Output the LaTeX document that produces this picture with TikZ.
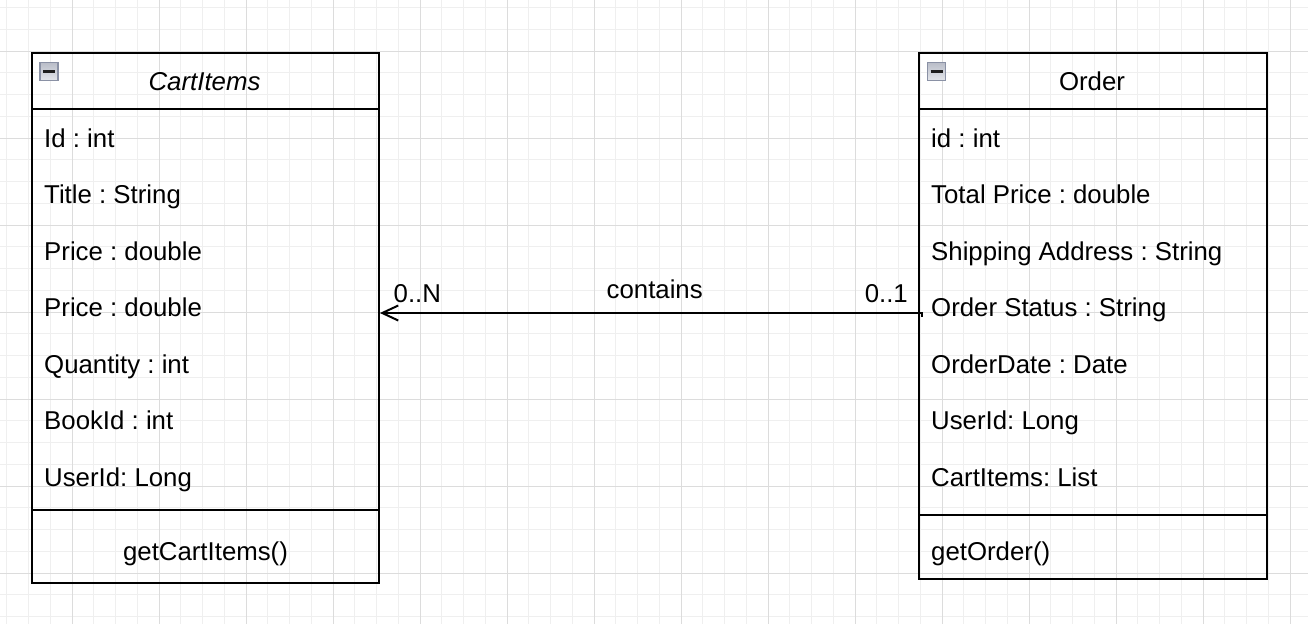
\documentclass[tikz,border=0pt]{standalone}
\usepackage{fontspec}
\setmainfont{Liberation Sans}
\usetikzlibrary{arrows.meta}
\definecolor{minorgrid}{HTML}{EFEFEF}
\definecolor{majorgrid}{HTML}{DCDCDC}
\definecolor{iconborder}{HTML}{8A91A5}
\definecolor{icontop}{HTML}{B9BDC8}
\definecolor{iconbot}{HTML}{E4E6EB}
\definecolor{iconbar}{HTML}{1E1E1E}
\newcommand{\umlfont}{\fontsize{25.8}{31}\selectfont}
\frenchspacing
\begin{document}
\begin{tikzpicture}[x=1pt,y=-1pt,
  compart/.style={draw=black,line width=2.4pt,inner sep=0pt,anchor=north west},
  attr/.style={anchor=base west,inner sep=0pt,font=\umlfont},
  ctext/.style={anchor=base,inner sep=0pt,font=\umlfont},
  lbl/.style={inner sep=0pt,font=\umlfont},
  icon/.style={draw=iconborder,line width=1.6pt,minimum size=18pt,inner sep=0pt,top color=icontop,bottom color=iconbot},
  iconminus/.style={draw=iconbar,line width=2.6pt},
  assoc/.style={draw=black,line width=2pt,-{Straight Barb[length=16pt,width=15pt,line width=2pt]}}]
\useasboundingbox (0,0) rectangle (1308,624);
\fill[white] (0,0) rectangle (1308,624);
% grid
\begin{scope}
\clip (0,0) rectangle (1308,624);
\foreach \k in {-3,...,57} {
  \pgfmathsetmacro{\xx}{72+21.75*\k}
  \draw[minorgrid,line width=1pt] (\xx,0) -- (\xx,624);
}
\foreach \k in {-2,...,26} {
  \pgfmathsetmacro{\yy}{51+21.75*\k}
  \draw[minorgrid,line width=1pt] (0,\yy) -- (1308,\yy);
}
\foreach \k in {0,...,14} {
  \pgfmathsetmacro{\xx}{72+87*\k}
  \draw[majorgrid,line width=1pt] (\xx,0) -- (\xx,624);
}
\foreach \k in {0,...,6} {
  \pgfmathsetmacro{\yy}{51+87*\k}
  \draw[majorgrid,line width=1pt] (0,\yy) -- (1308,\yy);
}
\end{scope}
% CartItems class
\node[compart,minimum width=347pt,minimum height=56pt] (cartH) at (30.5,52) {};
\node[compart,minimum width=347pt,minimum height=401pt] (cartA) at (30.5,108) {};
\node[compart,minimum width=347pt,minimum height=73pt] (cartM) at (30.5,509) {};
\node[icon] (cartIcon) at (49,71.5) {};
\draw[iconminus] ([xshift=-6pt]cartIcon.center) -- ([xshift=6pt]cartIcon.center);
\node[ctext] (cartT) at (204.5,90.3) {\itshape CartItems};
\node[attr] (c1) at (44,147.3) {Id : int};
\node[attr] (c2) at (44,203.8) {Title : String};
\node[attr] (c3) at (44,260.3) {Price : double};
\node[attr] (c4) at (44,316.8) {Price : double};
\node[attr] (c5) at (44,373.3) {Quantity : int};
\node[attr] (c6) at (44,429.8) {BookId : int};
\node[attr] (c7) at (44,486.3) {UserId: Long};
\node[ctext] (cm1) at (205.5,560) {getCartItems()};
% Order class
\node[compart,minimum width=348pt,minimum height=56pt] (ordH) at (917.5,52) {};
\node[compart,minimum width=348pt,minimum height=405.5pt] (ordA) at (917.5,108) {};
\node[compart,minimum width=348pt,minimum height=64.5pt] (ordM) at (917.5,513.5) {};
\node[icon] (ordIcon) at (936.5,71.5) {};
\draw[iconminus] ([xshift=-6pt]ordIcon.center) -- ([xshift=6pt]ordIcon.center);
\node[ctext] (ordT) at (1092,90.3) {Order};
\node[attr] (o1) at (931,147.3) {id : int};
\node[attr] (o2) at (931,203.8) {Total Price : double};
\node[attr] (o3) at (931,260.3) {Shipping Address : String};
\node[attr] (o4) at (931,316.8) {Order Status : String};
\node[attr] (o5) at (931,373.3) {OrderDate : Date};
\node[attr] (o6) at (931,429.8) {UserId: Long};
\node[attr] (o7) at (931,486.3) {CartItems: List};
\node[attr] (om1) at (931,560.7) {getOrder()};
% association
\coordinate (oc) at (922,313);
\draw[assoc] (oc) ++(0,4) -- (oc) -- (oc -| cartA.east);
\node[lbl,anchor=base west] (lN) at (393.5,302) {0..N};
\node[lbl,anchor=base] (lc) at (654.7,298.3) {contains};
\node[lbl,anchor=base east] (l1) at (908,302) {0..1};
\end{tikzpicture}
\end{document}
